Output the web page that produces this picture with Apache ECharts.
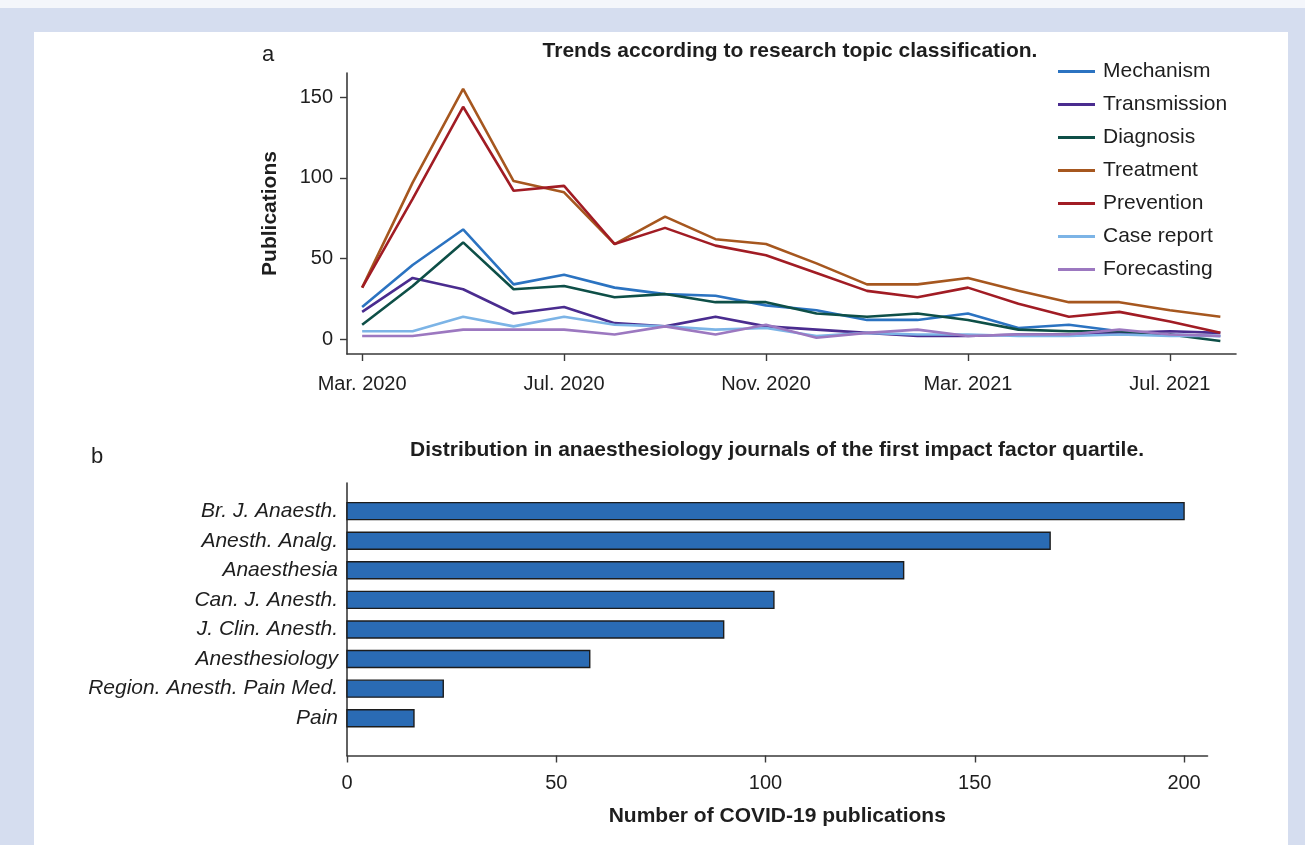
<!DOCTYPE html>
<html>
<head>
<meta charset="utf-8">
<script src="https://cdn.jsdelivr.net/npm/echarts@6/dist/echarts.min.js"></script>
<style>
  html, body { margin: 0; padding: 0; }
  body { width: 1305px; height: 845px; background: #d5ddef; position: relative; overflow: hidden; }
  #topstrip { position: absolute; left: 0; top: 0; width: 1305px; height: 8px; background: #f4f6fb; }
  #panel { position: absolute; left: 34px; top: 32px; width: 1254px; height: 813px; background: #ffffff; }
  #chart { position: absolute; left: 0; top: 0; width: 1305px; height: 845px; }
</style>
</head>
<body>
<div id="topstrip"></div>
<div id="panel"></div>
<div id="chart"></div>
<script>
// ---- Panel a data: monthly publications, Mar. 2020 .. Aug. 2021 ----
const months = ['Mar. 2020','Apr. 2020','May 2020','Jun. 2020','Jul. 2020','Aug. 2020','Sep. 2020','Oct. 2020','Nov. 2020','Dec. 2020','Jan. 2021','Feb. 2021','Mar. 2021','Apr. 2021','May 2021','Jun. 2021','Jul. 2021','Aug. 2021'];
const timeTickPositions = [0, 4, 8, 12, 16];
const timeTickLabels = ['Mar. 2020', 'Jul. 2020', 'Nov. 2020', 'Mar. 2021', 'Jul. 2021'];
const pubTickValues = [0, 50, 100, 150];

const mechanism    = [20, 46, 68, 34, 40, 32, 28, 27, 21, 18, 12, 12, 16, 7, 9, 5, 3, 2];
const transmission = [17, 38, 31, 16, 20, 10, 8, 14, 8, 6, 4, 2, 2, 3, 3, 4, 5, 4];
const diagnosis    = [9, 33, 60, 31, 33, 26, 28, 23, 23, 16, 14, 16, 12, 6, 5, 5, 3, -1];
const treatment    = [32, 97, 155, 98, 91, 59, 76, 62, 59, 47, 34, 34, 38, 30, 23, 23, 18, 14];
const prevention   = [32, 87, 144, 92, 95, 59, 69, 58, 52, 41, 30, 26, 32, 22, 14, 17, 11, 4];
const caseReport   = [5, 5, 14, 8, 14, 9, 8, 6, 7, 2, 4, 3, 3, 2, 2, 3, 2, 2];
const forecasting  = [2, 2, 6, 6, 6, 3, 8, 3, 9, 1, 4, 6, 2, 3, 3, 6, 3, 2];

// ---- Panel b data ----
const journals = ['Br. J. Anaesth.', 'Anesth. Analg.', 'Anaesthesia', 'Can. J. Anesth.', 'J. Clin. Anesth.', 'Anesthesiology', 'Region. Anesth. Pain Med.', 'Pain'];
const journalCounts = [200, 168, 133, 102, 90, 58, 23, 16];
const countTickValues = [0, 50, 100, 150, 200];

const seriesDefs = [
  { name: 'Mechanism',    data: mechanism,    color: '#2b73c1' },
  { name: 'Transmission', data: transmission, color: '#4a2c8f' },
  { name: 'Diagnosis',    data: diagnosis,    color: '#0e4f47' },
  { name: 'Treatment',    data: treatment,    color: '#a6571f' },
  { name: 'Prevention',   data: prevention,   color: '#a11c24' },
  { name: 'Case report',  data: caseReport,   color: '#7cb4e6' },
  { name: 'Forecasting',  data: forecasting,  color: '#9c78c0' }
];

const FONT = '"Liberation Sans", Arial, Helvetica, sans-serif';
const TXT = '#1e1e1e';
const AX = '#3a3a3a';

const chart = echarts.init(document.getElementById('chart'), null, { renderer: 'canvas' });

const lineSeries = seriesDefs.map(d => ({
  name: d.name,
  type: 'line',
  xAxisIndex: 0,
  yAxisIndex: 0,
  data: d.data.map((v, i) => [i, v]),
  symbol: 'none',
  lineStyle: { color: d.color, width: 2.6 },
  itemStyle: { color: d.color },
  emphasis: { disabled: true },
  z: 2
}));

const barSeries = {
  type: 'custom',
  xAxisIndex: 1,
  yAxisIndex: 1,
  data: journalCounts.map((v, i) => [v, i]),
  encode: { x: 0, y: 1 },
  renderItem: function (params, api) {
    const val = api.value(0);
    const idx = api.value(1);
    const p0 = api.coord([0, idx]);
    const p1 = api.coord([val, idx]);
    const h = 17;
    return {
      type: 'rect',
      shape: { x: p0[0], y: p0[1] - h / 2, width: p1[0] - p0[0], height: h },
      style: { fill: '#2a6bb4', stroke: '#1c1c1c', lineWidth: 1.4 }
    };
  },
  z: 2
};

const option = {
  backgroundColor: 'transparent',
  animation: false,
  textStyle: { fontFamily: FONT, color: TXT },
  title: [
    { text: 'a', left: 262, top: 44, padding: 0,
      textStyle: { fontFamily: FONT, fontSize: 22, fontWeight: 'normal', color: TXT } },
    { text: 'Trends according to research topic classification.', left: 790, top: 41, padding: 0, textAlign: 'center',
      textStyle: { fontFamily: FONT, fontSize: 21, fontWeight: 'bold', color: TXT } },
    { text: 'b', left: 91, top: 446, padding: 0,
      textStyle: { fontFamily: FONT, fontSize: 22, fontWeight: 'normal', color: TXT } },
    { text: 'Distribution in anaesthesiology journals of the first impact factor quartile.', left: 777, top: 440, padding: 0, textAlign: 'center',
      textStyle: { fontFamily: FONT, fontSize: 21, fontWeight: 'bold', color: TXT } }
  ],
  legend: {
    orient: 'vertical',
    left: 1058,
    top: 60,
    padding: 0,
    icon: 'rect',
    itemWidth: 37,
    itemHeight: 3,
    itemGap: 10,
    data: seriesDefs.map(d => d.name),
    textStyle: { fontFamily: FONT, fontSize: 21, lineHeight: 23, color: TXT, padding: [0, 0, 0, 3] }
  },
  grid: [
    { left: 347, top: 73, width: 889, height: 281, containLabel: false },
    { left: 347, top: 483, width: 860.5, height: 272.5, containLabel: false }
  ],
  xAxis: [
    {
      gridIndex: 0, type: 'value', min: -0.3, max: 17.31,
      axisLine: { show: true, onZero: false, lineStyle: { color: AX, width: 1.6 } },
      axisTick: { show: true, customValues: timeTickPositions, length: 7, lineStyle: { color: AX, width: 1.4 } },
      axisLabel: {
        customValues: timeTickPositions, margin: 20,
        fontFamily: FONT, fontSize: 20, color: TXT,
        formatter: v => timeTickLabels[timeTickPositions.indexOf(v)] || ''
      },
      splitLine: { show: false }
    },
    {
      gridIndex: 1, type: 'value', min: 0, max: 205.6,
      name: 'Number of COVID-19 publications', nameLocation: 'middle', nameGap: 50,
      nameTextStyle: { fontFamily: FONT, fontSize: 21, fontWeight: 'bold', color: TXT },
      axisLine: { show: true, onZero: false, lineStyle: { color: AX, width: 1.6 } },
      axisTick: { show: true, customValues: countTickValues, length: 7, lineStyle: { color: AX, width: 1.4 } },
      axisLabel: { customValues: countTickValues, margin: 18, fontFamily: FONT, fontSize: 20, color: TXT },
      splitLine: { show: false }
    }
  ],
  yAxis: [
    {
      gridIndex: 0, type: 'value', min: -9.1, max: 164.9,
      name: 'Publications', nameLocation: 'middle', nameGap: 66,
      nameTextStyle: { fontFamily: FONT, fontSize: 21, fontWeight: 'bold', color: TXT },
      axisLine: { show: true, onZero: false, lineStyle: { color: AX, width: 1.6 } },
      axisTick: { show: true, customValues: pubTickValues, length: 7, lineStyle: { color: AX, width: 1.4 } },
      axisLabel: { customValues: pubTickValues, margin: 14, fontFamily: FONT, fontSize: 20, color: TXT },
      splitLine: { show: false }
    },
    {
      gridIndex: 1, type: 'value', inverse: true, min: -0.95, max: 8.26,
      axisLine: { show: true, onZero: false, lineStyle: { color: AX, width: 1.6 } },
      axisTick: { show: false },
      axisLabel: {
        customValues: journals.map((_, i) => i), margin: 9,
        fontFamily: FONT, fontSize: 21, fontStyle: 'italic', color: TXT,
        formatter: v => journals[v] || ''
      },
      splitLine: { show: false }
    }
  ],
  series: [...lineSeries, barSeries]
};

chart.setOption(option);
</script>
</body>
</html>
